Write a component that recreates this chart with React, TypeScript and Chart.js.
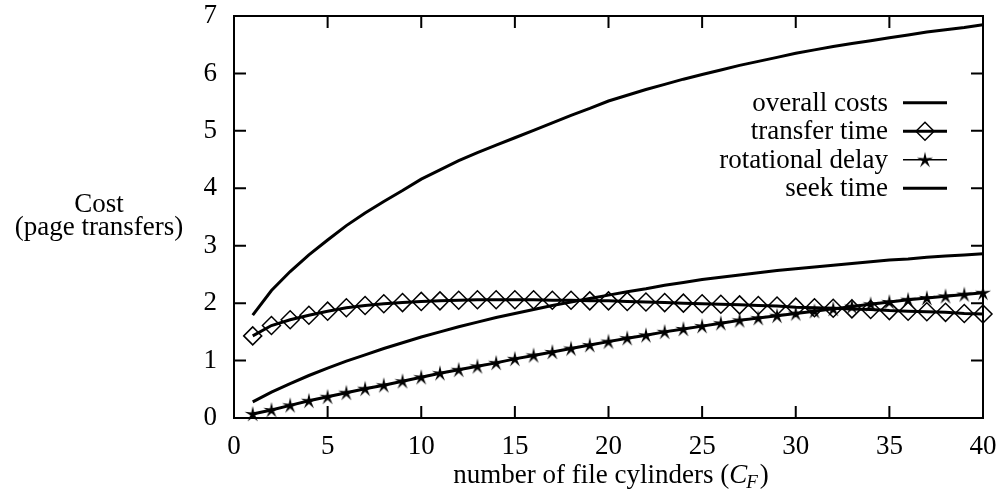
import React, { useEffect, useRef } from "react";
import { Chart, registerables } from "chart.js";

Chart.register(...registerables);

// ---- data ----
const cylinders = [
  1, 2, 3, 4, 5, 6, 7, 8, 9, 10, 11, 12, 13, 14, 15, 16, 17, 18, 19, 20,
  21, 22, 23, 24, 25, 26, 27, 28, 29, 30, 31, 32, 33, 34, 35, 36, 37, 38, 39, 40,
];
const overallCosts = [
  1.79, 2.22, 2.55, 2.84, 3.10, 3.35, 3.57, 3.77, 3.96, 4.16, 4.32, 4.48, 4.62, 4.75, 4.88,
  5.01, 5.14, 5.27, 5.39, 5.52, 5.62, 5.72, 5.81, 5.90, 5.98, 6.06, 6.14, 6.21, 6.28, 6.35,
  6.41, 6.47, 6.52, 6.57, 6.62, 6.67, 6.72, 6.76, 6.80, 6.85,
];
const transferTime = [
  1.43, 1.61, 1.71, 1.79, 1.86, 1.92, 1.96, 1.99, 2.01, 2.03, 2.04, 2.05, 2.06, 2.06, 2.06,
  2.06, 2.05, 2.05, 2.04, 2.04, 2.03, 2.02, 2.01, 2.0, 1.99, 1.98, 1.97, 1.96, 1.95, 1.93,
  1.92, 1.91, 1.9, 1.89, 1.87, 1.86, 1.85, 1.84, 1.82, 1.81,
];
const rotationalDelay = [
  0.07, 0.14, 0.22, 0.3, 0.37, 0.44, 0.51, 0.57, 0.64, 0.71, 0.78, 0.84, 0.9, 0.96, 1.03,
  1.09, 1.15, 1.21, 1.27, 1.33, 1.39, 1.44, 1.5, 1.55, 1.6, 1.65, 1.7, 1.74, 1.78, 1.82,
  1.86, 1.9, 1.94, 1.98, 2.02, 2.06, 2.09, 2.12, 2.15, 2.18,
];
const seekTime = [
  0.28, 0.45, 0.6, 0.74, 0.87, 0.99, 1.1, 1.21, 1.31, 1.41, 1.5, 1.59, 1.67, 1.75, 1.82,
  1.89, 1.96, 2.02, 2.08, 2.14, 2.2, 2.25, 2.31, 2.36, 2.41, 2.45, 2.49, 2.53, 2.57, 2.6,
  2.63, 2.66, 2.69, 2.72, 2.75, 2.77, 2.8, 2.82, 2.84, 2.86,
];
const seriesLabels = ["overall costs", "transfer time", "rotational delay", "seek time"];
const xTicks = [0, 5, 10, 15, 20, 25, 30, 35, 40];
const yTicks = [0, 1, 2, 3, 4, 5, 6, 7];
const yTitleLines = ["Cost", "(page transfers)"];
const xTitleText = "number of file cylinders (";
const xTitleSymbol = "C";
const xTitleSub = "F";

const FONT = "'Liberation Serif', 'Times New Roman', serif";
const FSIZE = 27;

function makeStar(): HTMLCanvasElement {
  const c = document.createElement("canvas");
  c.width = 20;
  c.height = 20;
  const g = c.getContext("2d")!;
  const cx = 10, cy = 10.5, ro = 8.5, ri = 2.6;
  g.beginPath();
  for (let i = 0; i < 10; i++) {
    const r = i % 2 === 0 ? ro : ri;
    const a = -Math.PI / 2 + (i * Math.PI) / 5;
    const px = cx + r * Math.cos(a);
    const py = cy + r * Math.sin(a);
    if (i === 0) g.moveTo(px, py);
    else g.lineTo(px, py);
  }
  g.closePath();
  g.fillStyle = "#000";
  g.fill();
  return c;
}

export default function App() {
  const ref = useRef<HTMLCanvasElement | null>(null);

  useEffect(() => {
    if (!ref.current) return;
    const star = makeStar();
    const pts = (vals: number[]) => cylinders.map((x, i) => ({ x, y: vals[i] }));

    const framePlugin = {
      id: "frameTicks",
      afterDraw(chart: any) {
        const { ctx, chartArea } = chart;
        const { left, right, top, bottom } = chartArea;
        const xs = chart.scales.x;
        const ys = chart.scales.y;
        ctx.save();
        ctx.strokeStyle = "#000";
        ctx.lineWidth = 2;
        ctx.strokeRect(left, top, right - left, bottom - top);
        const len = 12;
        ctx.beginPath();
        xTicks.forEach((v) => {
          const px = xs.getPixelForValue(v);
          ctx.moveTo(px, bottom);
          ctx.lineTo(px, bottom - len);
          ctx.moveTo(px, top);
          ctx.lineTo(px, top + len);
        });
        yTicks.forEach((v) => {
          const py = ys.getPixelForValue(v);
          ctx.moveTo(left, py);
          ctx.lineTo(left + len, py);
          ctx.moveTo(right, py);
          ctx.lineTo(right - len, py);
        });
        ctx.stroke();

        // legend
        ctx.fillStyle = "#000";
        ctx.font = `${FSIZE}px ${FONT}`;
        ctx.textAlign = "right";
        ctx.textBaseline = "alphabetic";
        const textRight = 888;
        const lx0 = 903, lx1 = 947, lmid = 925;
        const widths = [3, 3, 1.5, 3];
        seriesLabels.forEach((lab, i) => {
          const ly = 102.7 + i * 28.5;
          ctx.fillText(lab, textRight, ly + 8);
          ctx.beginPath();
          ctx.lineWidth = widths[i];
          ctx.moveTo(lx0, ly);
          ctx.lineTo(lx1, ly);
          ctx.stroke();
          if (i === 1) {
            ctx.beginPath();
            ctx.lineWidth = 1.5;
            ctx.moveTo(lmid - 9, ly);
            ctx.lineTo(lmid, ly - 9);
            ctx.lineTo(lmid + 9, ly);
            ctx.lineTo(lmid, ly + 9);
            ctx.closePath();
            ctx.stroke();
          }
          if (i === 2) {
            ctx.drawImage(star, lmid - star.width / 2, ly - star.height / 2);
          }
        });

        // y title
        ctx.textAlign = "center";
        ctx.fillText(yTitleLines[0], 99, 212);
        ctx.fillText(yTitleLines[1], 99, 235);

        // x title with italic C and subscript F
        ctx.textAlign = "left";
        const normal = `${FSIZE}px ${FONT}`;
        const ital = `italic ${FSIZE}px ${FONT}`;
        const sub = `italic ${Math.round(FSIZE * 0.7)}px ${FONT}`;
        ctx.font = normal;
        const w1 = ctx.measureText(xTitleText).width;
        const w4 = ctx.measureText(")").width;
        ctx.font = ital;
        const w2 = ctx.measureText(xTitleSymbol).width;
        ctx.font = sub;
        const w3 = ctx.measureText(xTitleSub).width;
        const total = w1 + w2 + w3 + w4 + 1;
        let cx = 611 - total / 2;
        const base = 483;
        ctx.font = normal;
        ctx.fillText(xTitleText, cx, base);
        cx += w1;
        ctx.font = ital;
        ctx.fillText(xTitleSymbol, cx, base);
        cx += w2 - 1;
        ctx.font = sub;
        ctx.fillText(xTitleSub, cx, base + 5);
        cx += w3 + 2;
        ctx.font = normal;
        ctx.fillText(")", cx, base);
        ctx.restore();
      },
    };

    const chart = new Chart(ref.current, {
      type: "line",
      data: {
        datasets: [
          {
            label: seriesLabels[0],
            data: pts(overallCosts),
            borderColor: "#000",
            borderWidth: 3,
            pointRadius: 0,
            tension: 0,
          },
          {
            label: seriesLabels[1],
            data: pts(transferTime),
            borderColor: "#000",
            borderWidth: 3,
            pointStyle: "rectRot",
            pointRadius: 9,
            pointBorderWidth: 1.5,
            pointBorderColor: "#000",
            pointBackgroundColor: "rgba(0,0,0,0)",
            tension: 0,
            clip: false,
          },
          {
            label: seriesLabels[2],
            data: pts(rotationalDelay),
            borderColor: "#000",
            borderWidth: 3,
            pointStyle: star as any,
            pointRadius: 9,
            tension: 0,
            clip: false,
          },
          {
            label: seriesLabels[3],
            data: pts(seekTime),
            borderColor: "#000",
            borderWidth: 3,
            pointRadius: 0,
            tension: 0,
          },
        ] as any,
      },
      options: {
        animation: false,
        responsive: false,
        events: [],
        layout: { padding: 0 },
        plugins: { legend: { display: false }, tooltip: { enabled: false } },
        scales: {
          x: {
            type: "linear",
            min: 0,
            max: 40,
            afterFit: (s: any) => {
              s.height = 75;
              s.paddingLeft = 0;
              s.paddingRight = 15;
            },
            afterBuildTicks: (s: any) => {
              s.ticks = xTicks.map((v) => ({ value: v }));
            },
            grid: { display: false, drawTicks: false },
            border: { display: false },
            ticks: {
              color: "#000",
              padding: 13,
              font: { family: FONT, size: FSIZE },
            },
          },
          y: {
            type: "linear",
            min: 0,
            max: 7,
            afterFit: (s: any) => {
              s.width = 234;
              s.paddingTop = 16;
              s.paddingBottom = 0;
            },
            afterBuildTicks: (s: any) => {
              s.ticks = yTicks.map((v) => ({ value: v }));
            },
            grid: { display: false, drawTicks: false },
            border: { display: false },
            ticks: {
              color: "#000",
              padding: 17,
              font: { family: FONT, size: FSIZE },
            },
          },
        },
      },
      plugins: [framePlugin],
    } as any);

    return () => chart.destroy();
  }, []);

  return (
    <div style={{ position: "fixed", left: 0, top: 0, width: 998, height: 493, background: "#fff" }}>
      <canvas ref={ref} width={998} height={493} />
    </div>
  );
}
